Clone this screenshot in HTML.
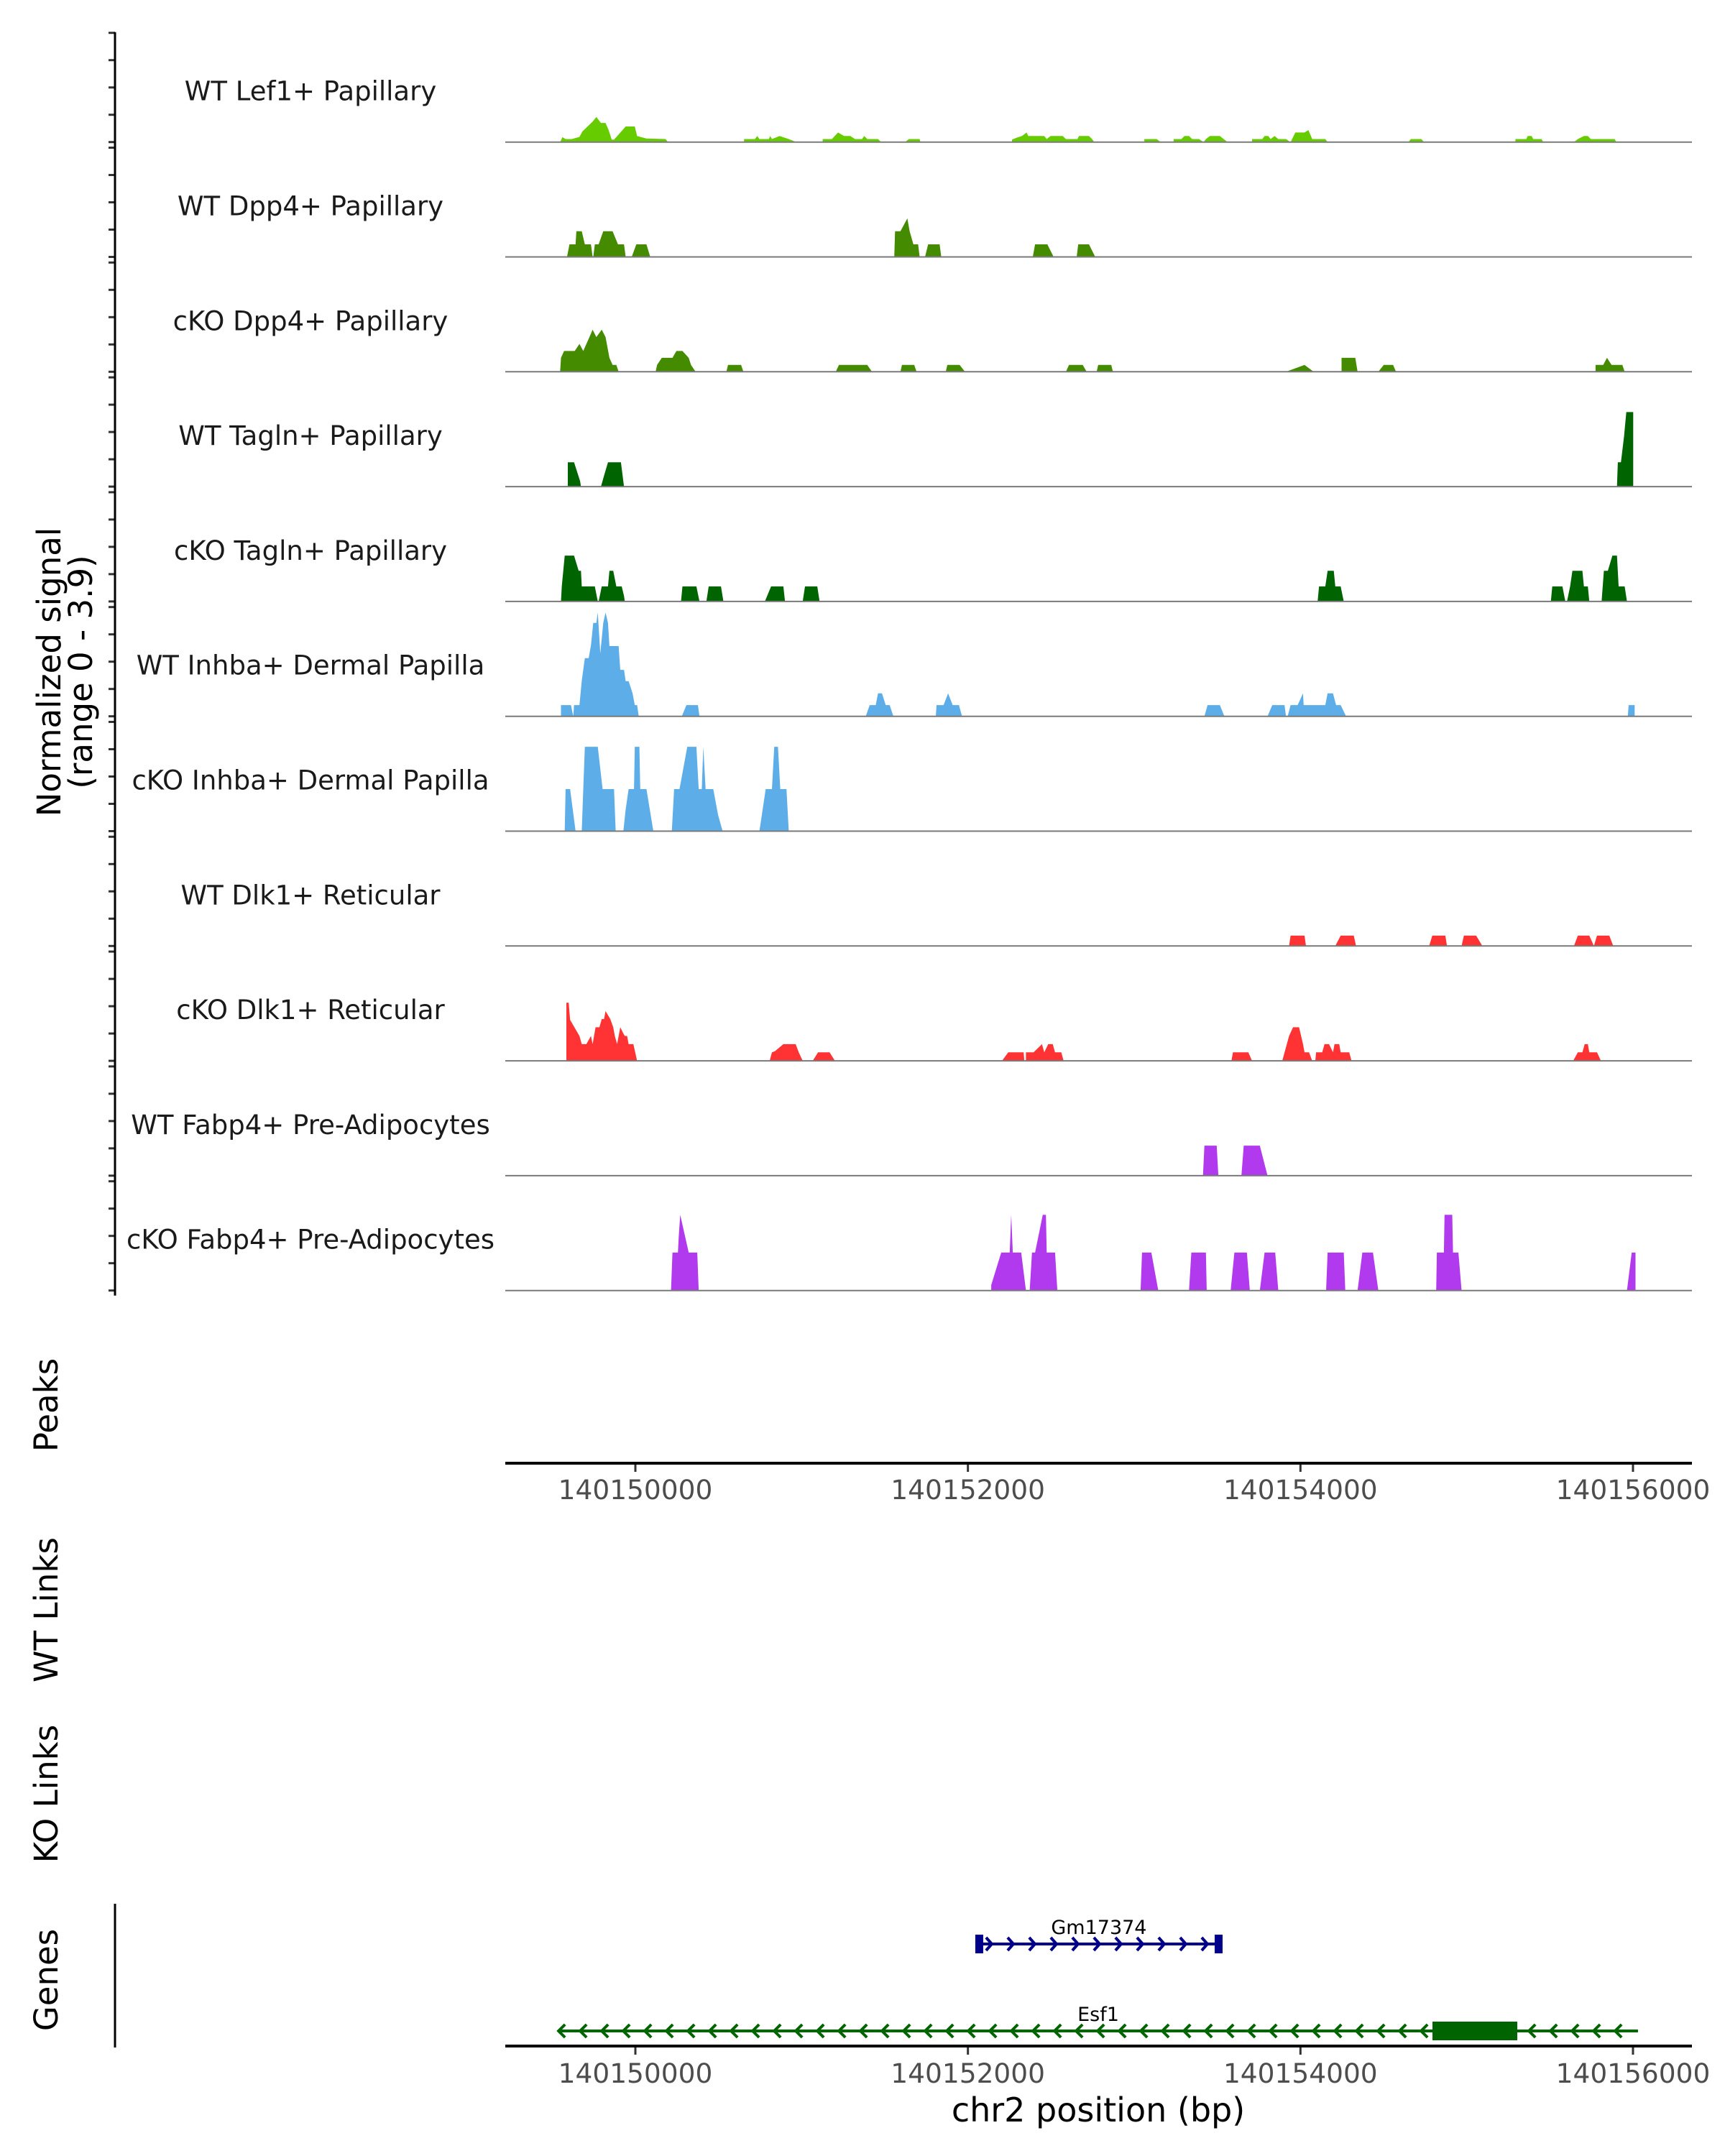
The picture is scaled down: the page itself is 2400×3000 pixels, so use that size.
<!DOCTYPE html>
<html><head><meta charset="utf-8"><style>
html,body{margin:0;padding:0;background:#fff}
svg{display:block}
text{font-family:"DejaVu Sans","Liberation Sans",sans-serif}
</style></head><body>
<svg id="chart" width="2400" height="3000" viewBox="0 0 2400 3000" xmlns="http://www.w3.org/2000/svg">
<rect width="2400" height="3000" fill="#fff"/>
<g id="tracks"></g>
<g id="yaxis"></g>
<text transform="translate(84,935) rotate(-90)" text-anchor="middle" font-size="45" fill="#000">Normalized signal</text>
<text transform="translate(128,935) rotate(-90)" text-anchor="middle" font-size="45" fill="#000">(range 0 - 3.9)</text>
<text transform="translate(80,1955) rotate(-90)" text-anchor="middle" font-size="45">Peaks</text>
<text transform="translate(80,2240) rotate(-90)" text-anchor="middle" font-size="45">WT Links</text>
<text transform="translate(80,2496) rotate(-90)" text-anchor="middle" font-size="45">KO Links</text>
<text transform="translate(80,2755) rotate(-90)" text-anchor="middle" font-size="45">Genes</text>
<line x1="160" y1="2649" x2="160" y2="2849" stroke="#000" stroke-width="3"/>
<g id="xaxes"></g>
<g id="genes"></g>
<text x="1528" y="2952" text-anchor="middle" font-size="46">chr2 position (bp)</text>
</svg>
<script>
const NS="http://www.w3.org/2000/svg";
// region & axis data
const REGION_START=140149256;
const xTicks=[140150000,140152000,140154000,140156000];
const trackNames=["WT Lef1+ Papillary","WT Dpp4+ Papillary","cKO Dpp4+ Papillary","WT Tagln+ Papillary","cKO Tagln+ Papillary","WT Inhba+ Dermal Papilla","cKO Inhba+ Dermal Papilla","WT Dlk1+ Reticular","cKO Dlk1+ Reticular","WT Fabp4+ Pre-Adipocytes","cKO Fabp4+ Pre-Adipocytes"];
const trackColors=["#66cc00","#458b00","#458b00","#006400","#006400","#5dade8","#5dade8","#ff3333","#ff3333","#b23aee","#b23aee"];
const yTicks=[0,1,2,3,4];
// coverage: [offset bp from region start, normalized signal]
const wtLef1=[[296,0],[310,0.18],[329,0.11],[367,0.11],[414,0.19],[432,0.39],[494,0.75],[517,0.92],[545,0.7],[573,0.7],[592,0.44],[611,0.09],[625,0.09],[658,0.31],[696,0.57],[752,0.57],[766,0.22],[823,0.13],[940,0.11],[954,0],
[1419,0],[1419,0.11],[1485,0.11],[1499,0.22],[1513,0.11],[1570,0.11],[1579,0.22],[1589,0.11],[1636,0.22],[1692,0.11],[1739,0],
[1899,0],[1899,0.11],[1955,0.11],[1993,0.35],[2030,0.22],[2068,0.22],[2096,0.11],[2139,0.11],[2153,0.22],[2171,0.11],[2237,0.11],[2256,0],
[2402,0],[2425,0.11],[2491,0.11],[2496,0],
[3055,0],[3055,0.09],[3083,0.16],[3116,0.22],[3144,0.35],[3154,0.22],[3252,0.22],[3267,0.11],[3290,0.22],[3365,0.22],[3384,0.11],[3455,0.11],[3464,0.22],[3525,0.22],[3544,0.11],[3558,0],
[3863,0],[3863,0.11],[3939,0.11],[3962,0],
[4042,0],[4042,0.11],[4089,0.11],[4108,0.22],[4136,0.22],[4155,0.11],[4197,0.11],[4225,0],[4239,0.11],[4263,0.22],[4324,0.22],[4371,0],
[4521,0],[4521,0.11],[4583,0.11],[4597,0.22],[4620,0.22],[4634,0.11],[4658,0.22],[4681,0.11],[4728,0.11],[4756,0],[4785,0.35],[4841,0.35],[4865,0.44],[4888,0.11],[4968,0.11],[4982,0],
[5476,0],[5490,0.11],[5555,0.11],[5570,0],
[6129,0],[6129,0.11],[6195,0.11],[6204,0.22],[6228,0.22],[6237,0.11],[6289,0.11],[6298,0],
[6486,0],[6510,0.11],[6547,0.22],[6571,0.22],[6589,0.11],[6735,0.11],[6745,0]];
const wtDpp4=[[338,0],[353,0.46],[390,0.46],[395,0.94],[428,0.94],[447,0.46],[484,0.46],[494,0],[498,0],[508,0.46],[531,0.46],[559,0.94],[616,0.94],[649,0.46],[686,0.46],[696,0],[733,0],[761,0.46],[823,0.46],[846,0],
[2336,0],[2341,0.94],[2374,0.94],[2397,1.2],[2416,1.41],[2430,0.94],[2453,0.46],[2482,0.46],[2491,0],[2524,0],[2543,0.46],[2613,0.46],[2623,0],
[3182,0],[3196,0.46],[3271,0.46],[3309,0],[3450,0],[3459,0.46],[3525,0.46],[3563,0]];
const koDpp4=[[296,0],[301,0.51],[320,0.76],[385,0.76],[414,1.02],[437,0.76],[475,1.27],[494,1.54],[517,1.27],[550,1.54],[573,1.27],[597,0.51],[616,0.25],[639,0.25],[653,0],
[879,0],[888,0.25],[917,0.51],[982,0.51],[1006,0.76],[1043,0.76],[1081,0.51],[1095,0.25],[1123,0],
[1311,0],[1321,0.25],[1401,0.25],[1415,0],[1979,0],[1998,0.25],[2171,0.25],[2200,0],
[2374,0],[2383,0.25],[2458,0.25],[2472,0],[2651,0],[2660,0.25],[2735,0.25],[2768,0],
[3384,0],[3403,0.25],[3487,0.25],[3511,0],[3572,0],[3581,0.25],[3661,0.25],[3671,0],
[4728,0],[4841,0.25],[4897,0],[5067,0],[5067,0.51],[5151,0.51],[5165,0],
[5292,0],[5325,0.25],[5382,0.25],[5400,0],
[6618,0],[6618,0.25],[6665,0.25],[6688,0.51],[6716,0.25],[6782,0.25],[6796,0]];
const wtTagln=[[343,0],[343,0.89],[381,0.89],[418,0.2],[423,0],[545,0],[564,0.4],[588,0.89],[667,0.89],[686,0],
[6749,0],[6754,0.89],[6773,0.89],[6792,1.83],[6806,2.73],[6848,2.73],[6848,0]];
const koTagln=[[301,0],[306,0.55],[324,1.68],[381,1.68],[409,1.12],[423,1.12],[428,0.55],[508,0.55],[526,0],[531,0],[550,0.55],[588,0.55],[597,1.12],[620,1.12],[639,0.55],[672,0.55],[686,0.2],[691,0],
[1034,0],[1043,0.55],[1128,0.55],[1147,0],[1189,0],[1203,0.55],[1278,0.55],[1293,0],
[1546,0],[1584,0.55],[1659,0.55],[1669,0],[1777,0],[1791,0.55],[1866,0.55],[1880,0],
[4921,0],[4930,0.55],[4968,0.55],[4982,1.12],[5020,1.12],[5029,0.55],[5062,0.55],[5081,0],
[6345,0],[6354,0.55],[6416,0.55],[6434,0],[6444,0],[6463,0.55],[6477,1.12],[6538,1.12],[6547,0.55],[6571,0.55],[6580,0],
[6655,0],[6669,1.12],[6693,1.12],[6721,1.68],[6749,1.68],[6759,0.55],[6796,0.55],[6810,0]];
const wtInhba=[[301,0],[301,0.41],[362,0.41],[376,0],[381,0.41],[414,0.41],[428,1.3],[447,2.13],[470,2.13],[484,2.6],[498,3.42],[517,3.42],[526,3.8],[541,2.3],[559,3.42],[573,3.8],[588,3.42],[597,2.57],[653,2.57],[663,1.7],[686,1.7],[696,1.29],[714,1.29],[738,0.84],[752,0.41],[766,0.41],[776,0],
[1039,0],[1067,0.41],[1137,0.41],[1147,0],
[2162,0],[2186,0.41],[2223,0.41],[2237,0.84],[2261,0.84],[2284,0.41],[2308,0.41],[2331,0],
[2590,0],[2594,0.41],[2637,0.41],[2665,0.84],[2693,0.41],[2731,0.41],[2750,0],
[4230,0],[4249,0.41],[4324,0.41],[4352,0],
[4615,0],[4644,0.41],[4719,0.41],[4728,0],[4738,0],[4756,0.41],[4799,0.41],[4832,0.84],[4836,0.41],[4968,0.41],[4982,0.84],[5015,0.84],[5034,0.41],[5062,0.41],[5095,0],
[6815,0],[6820,0.41],[6857,0.41],[6857,0]];
const koInhba=[[324,0],[329,1.54],[357,1.54],[390,0],[428,0],[437,1.54],[447,3.09],[526,3.09],[555,1.54],[625,1.54],[635,0],
[682,0],[696,0.8],[714,1.54],[747,1.54],[752,3.09],[780,3.09],[785,1.54],[823,1.54],[865,0],
[978,0],[992,1.54],[1025,1.54],[1072,3.09],[1128,3.09],[1142,1.54],[1161,1.54],[1170,3.09],[1184,1.54],[1231,1.54],[1260,0.6],[1288,0],
[1513,0],[1551,1.54],[1589,1.54],[1603,3.09],[1626,3.09],[1640,1.54],[1678,1.54],[1692,0]];
const wtDlk1=[[4747,0],[4756,0.38],[4841,0.38],[4850,0],[5029,0],[5062,0.38],[5142,0.38],[5156,0],
[5602,0],[5621,0.38],[5701,0.38],[5711,0],[5800,0],[5814,0.38],[5889,0.38],[5927,0],
[6486,0],[6510,0.38],[6580,0.38],[6608,0],[6627,0.38],[6702,0.38],[6726,0]];
const koDlk1=[[334,0],[334,2.13],[348,2.13],[357,1.5],[414,0.91],[428,0.61],[456,0.61],[484,0.91],[494,0.61],[512,1.23],[536,1.23],[550,1.53],[564,1.53],[573,1.82],[602,1.53],[620,1.23],[630,0.91],[644,0.61],[663,1.23],[682,1.0],[691,0.91],[705,0.91],[714,0.61],[743,0.61],[766,0],
[1575,0],[1589,0.31],[1607,0.35],[1659,0.61],[1734,0.61],[1753,0.31],[1777,0],[1838,0],[1871,0.31],[1941,0.31],[1974,0],
[2994,0],[3032,0.31],[3126,0.31],[3130,0],[3140,0],[3140,0.31],[3187,0.31],[3238,0.61],[3252,0.31],[3276,0.61],[3304,0.61],[3318,0.31],[3356,0.31],[3370,0],
[4395,0],[4404,0.31],[4498,0.31],[4521,0],
[4705,0],[4747,0.91],[4771,1.23],[4808,1.23],[4832,0.61],[4841,0.31],[4869,0.31],[4888,0],[4907,0],[4912,0.31],[4949,0.31],[4963,0.61],[4991,0.61],[5015,0.31],[5024,0.61],[5053,0.61],[5062,0.31],[5114,0.31],[5128,0],
[6481,0],[6510,0.31],[6538,0.31],[6552,0.61],[6571,0.61],[6580,0.31],[6627,0.31],[6651,0]];
const wtFabp4=[[4221,0],[4230,1.1],[4305,1.1],[4315,0],[4456,0],[4470,1.1],[4568,1.1],[4615,0]];
const koFabp4=[[973,0],[982,1.39],[1015,1.39],[1020,1.96],[1029,2.77],[1081,1.39],[1133,1.39],[1142,0],
[2928,0],[2928,0.2],[2989,1.39],[3041,1.39],[3050,2.77],[3060,1.39],[3111,1.39],[3140,0],[3163,0],[3177,1.39],[3196,1.39],[3243,2.77],[3262,2.77],[3267,1.39],[3318,1.39],[3332,0],
[3840,0],[3849,1.39],[3906,1.39],[3948,0],[4136,0],[4150,1.39],[4239,1.39],[4244,0],
[4390,0],[4413,1.39],[4489,1.39],[4507,0],[4568,0],[4597,1.39],[4662,1.39],[4681,0],
[4973,0],[4982,1.39],[5081,1.39],[5090,0],[5165,0],[5194,1.39],[5259,1.39],[5292,0],
[5645,0],[5649,1.39],[5692,1.39],[5696,2.77],[5743,2.77],[5748,1.39],[5781,1.39],[5800,0],
[6810,0],[6839,1.39],[6862,1.39],[6862,0]];
const trackData=[wtLef1,wtDpp4,koDpp4,wtTagln,koTagln,wtInhba,koInhba,wtDlk1,koDlk1,wtFabp4,koFabp4];
// genes
const geneNames=["Gm17374","Esf1"];
const geneStarts=[140152066,140149538];
const geneEnds=[140153510,140156030];
const geneStrands=["+","-"];
const geneColors=["#00008b","#006400"];
const esf1CdsStart=140154794, esf1CdsEnd=140155304;

// scales
const PX_PER_BP=0.23133, X_REF=884, BP_REF=140150000;
function xScale(bp){return X_REF+(bp-BP_REF)*PX_PER_BP;}
function xOff(off){return xScale(REGION_START+off*0.985);}
const BASE0=197.7, TRACK_STEP=159.8, UNIT=38;
function yScale(i,v){return BASE0+i*TRACK_STEP-v*UNIT;}
const X0=703, X1=2354;

function mk(tag,attrs,parent,txt){const e=document.createElementNS(NS,tag);for(const k in attrs)e.setAttribute(k,attrs[k]);if(txt!==undefined)e.textContent=txt;parent.appendChild(e);return e;}
const gT=document.getElementById('tracks'), gY=document.getElementById('yaxis'), gX=document.getElementById('xaxes'), gG=document.getElementById('genes');

trackData.forEach((d,i)=>{
  const base=yScale(i,0);
  const pts=d.map(p=>xOff(p[0]).toFixed(1)+","+yScale(i,p[1]).toFixed(1)).join(" ");
  const poly=mk('polygon',{points:pts,fill:trackColors[i]},gT);
  
  
  const ln=mk('line',{x1:X0,x2:X1,y1:base,y2:base,stroke:'#7a7a7a','stroke-width':2},gT);
  
  
  const lb=mk('text',{x:432,y:base-58,'text-anchor':'middle','font-size':37,fill:'#1a1a1a'},gT,trackNames[i]);
  
  
  yTicks.forEach(t=>{
    const y=yScale(i,t);
    const tk=mk('line',{x1:151,x2:160,y1:y,y2:y,stroke:'#333','stroke-width':3},gY);
    
    
  });
});
const ya=mk('line',{x1:160,x2:160,y1:yScale(0,4)-1,y2:yScale(10,0)+7,stroke:'#000','stroke-width':3},gY);



[[2036,2086],[2847,2898]].forEach((a,k)=>{
  const ax=mk('line',{x1:X0,x2:X1,y1:a[0],y2:a[0],stroke:'#000','stroke-width':4},gX);
  
  
  xTicks.forEach(t=>{
    const x=xScale(t);
    const tk=mk('line',{x1:x,x2:x,y1:a[0]+2,y2:a[0]+12,stroke:'#333','stroke-width':3},gX);
    
    
    const tl=mk('text',{x:x,y:a[1],'text-anchor':'middle','font-size':37.5,fill:'#4d4d4d'},gX,String(t));
    
    
  });
});

const geneY=[2705,2826];
geneNames.forEach((n,i)=>{
  const g=mk('g',{},gG);
  
  
  const xs=xScale(geneStarts[i]), xe=xScale(geneEnds[i]), y=geneY[i], c=geneColors[i];
  mk('line',{x1:xs,x2:xe,y1:y,y2:y,stroke:c,'stroke-width':4},g);
  const dir=geneStrands[i]==='+'?1:-1;
  if(dir===1){
    for(let x=xs+18;x<xe;x+=30) mk('polyline',{points:`${x-8},${y-9} ${x},${y} ${x-8},${y+9}`,fill:'none',stroke:c,'stroke-width':4},g);
    mk('rect',{x:xs-5,y:y-13,width:11,height:26,fill:c},g);
    mk('rect',{x:xe-6,y:y-13,width:11,height:26,fill:c},g);
  } else {
    for(let x=xs;x<xe-20;x+=30) mk('polyline',{points:`${x+9},${y-9} ${x},${y} ${x+9},${y+9}`,fill:'none',stroke:c,'stroke-width':4},g);
    mk('rect',{x:xScale(esf1CdsStart),y:y-13,width:xScale(esf1CdsEnd)-xScale(esf1CdsStart),height:26,fill:c},g);
  }
  const t=mk('text',{x:(xs+xe)/2,y:y-14,'text-anchor':'middle','font-size':27,fill:'#000'},g,n);
  if(i===1) t.setAttribute('x',1528);
  
  
});
</script>
</body></html>
